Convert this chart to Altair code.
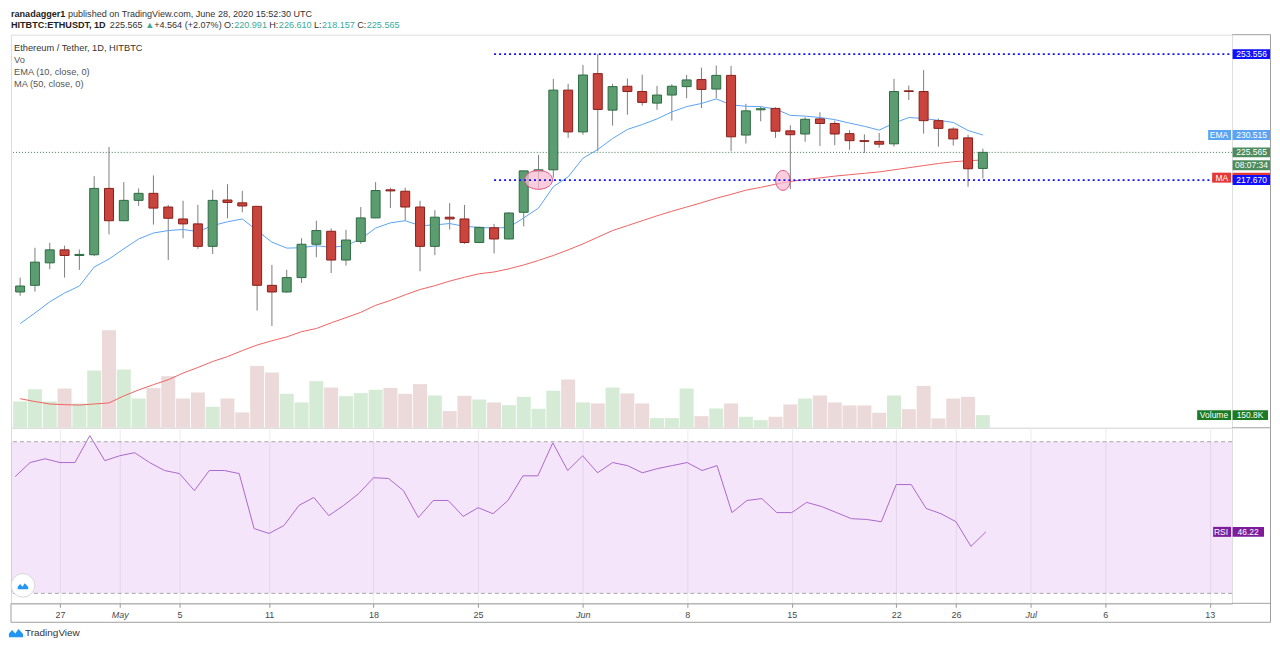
import math
import altair as alt
import pandas as pd

# ---------------- data ----------------
dates = pd.date_range("2020-04-24", "2020-06-28", freq="D").strftime("%Y-%m-%d").tolist()

opens = [185.8, 187.7, 194.1, 197.8, 196.2, 196.4, 215.3, 206.1, 211.9, 213.9,
         210.0, 206.6, 205.2, 198.8, 212.0, 211.2, 210.2, 187.7, 185.8, 189.9,
         199.4, 203.1, 194.9, 200.2, 206.9, 214.9, 214.5, 210.0, 198.8, 207.1,
         206.6, 199.9, 204.1, 200.9, 208.5, 220.1, 220.6, 243.3, 231.4, 248.0,
         237.6, 244.4, 242.9, 239.6, 241.9, 244.3, 246.3, 243.6, 247.5, 230.5,
         237.7, 238.1, 231.7, 230.8, 235.1, 233.8, 230.9, 228.9, 228.7, 228.0,
         243.1, 242.9, 234.6, 232.2, 229.7, 220.991]
highs = [189.9, 198.4, 199.8, 199.0, 197.9, 218.8, 227.1, 217.1, 215.3, 219.0,
         210.6, 211.8, 210.6, 214.9, 216.5, 214.6, 210.3, 193.5, 192.1, 201.1,
         206.1, 203.9, 203.5, 210.0, 217.1, 215.5, 215.5, 211.8, 209.1, 211.1,
         210.6, 204.4, 205.2, 208.5, 220.3, 224.8, 246.5, 245.1, 250.5, 253.6,
         245.1, 246.6, 247.7, 244.5, 245.0, 247.6, 249.7, 250.3, 250.2, 239.4,
         238.7, 238.4, 233.3, 235.6, 237.0, 234.6, 231.9, 230.7, 231.1, 246.5,
         244.6, 249.0, 235.2, 232.7, 230.6, 226.61]
lows = [184.7, 185.9, 192.3, 189.9, 192.1, 196.0, 202.2, 206.0, 210.3, 205.0,
        194.9, 201.1, 198.1, 196.6, 206.8, 208.5, 180.5, 176.1, 185.6, 188.4,
        195.7, 191.2, 193.3, 199.5, 206.8, 209.7, 206.1, 191.7, 196.3, 203.6,
        199.5, 199.8, 196.8, 200.8, 204.5, 215.1, 218.4, 229.7, 230.6, 225.9,
        233.2, 236.3, 238.9, 237.7, 234.6, 241.0, 238.2, 241.0, 225.9, 228.1,
        234.4, 229.7, 215.1, 228.6, 227.4, 227.6, 226.3, 225.4, 226.9, 227.2,
        240.5, 230.9, 227.2, 227.5, 215.8, 218.157]
closes = [187.5, 194.3, 197.8, 196.2, 196.5, 215.3, 206.1, 211.9, 213.9, 209.7,
          206.8, 205.2, 198.8, 211.9, 211.3, 210.3, 187.7, 185.8, 189.9, 199.4,
          203.3, 194.9, 200.6, 206.9, 214.7, 214.6, 210.0, 198.8, 207.1, 206.6,
          199.9, 204.2, 200.9, 208.3, 220.3, 220.6, 243.3, 231.4, 247.6, 237.8,
          244.3, 242.9, 239.8, 241.9, 244.4, 246.2, 243.5, 247.5, 230.0, 237.4,
          238.0, 231.6, 230.6, 235.0, 233.8, 230.8, 228.9, 228.7, 227.9, 242.9,
          242.9, 234.6, 232.4, 229.4, 220.9, 225.565]
ema10 = [176.8, 179.8, 183.0, 185.5, 187.5, 192.9, 195.2, 198.1, 200.9, 202.6,
         203.3, 203.6, 203.0, 204.7, 205.8, 206.6, 203.3, 200.0, 198.3, 198.4,
         199.0, 198.5, 199.0, 200.9, 204.0, 205.5, 206.1, 204.7, 204.9, 205.3,
         204.5, 204.2, 204.0, 204.2, 206.9, 209.7, 215.8, 218.6, 223.9, 226.4,
         229.5, 232.1, 233.5, 235.1, 237.1, 238.6, 239.5, 240.8, 239.1, 238.7,
         238.6, 237.9, 236.1, 235.9, 235.5, 234.9, 233.9, 233.0, 231.9, 233.9,
         235.5, 235.2, 234.7, 234.1, 231.8, 230.515]
ma50 = [155.4, 154.6, 153.9, 153.7, 153.6, 153.9, 154.2, 156.2, 157.9, 159.4,
        160.8, 162.7, 164.3, 166.0, 167.4, 169.1, 170.7, 171.9, 173.0, 174.5,
        175.4, 177.0, 178.5, 180.0, 182.0, 183.4, 185.0, 186.5, 187.6, 188.9,
        190.0, 191.0, 191.5, 192.4, 193.5, 194.8, 196.2, 197.8, 199.5, 201.4,
        203.3, 204.7, 206.1, 207.5, 208.8, 210.0, 211.2, 212.5, 213.6, 214.8,
        215.6, 216.5, 217.3, 217.8, 218.3, 218.8, 219.2, 219.6, 220.0, 220.6,
        221.2, 221.8, 222.4, 222.9, 223.2, 223.4]
rsi14 = [60.8, 64.5, 65.5, 64.5, 64.5, 71.6, 65.0, 66.3, 67.1, 64.5,
         62.4, 61.6, 57.1, 62.4, 62.4, 61.6, 47.1, 45.8, 47.9, 53.2,
         55.3, 50.5, 53.2, 56.3, 60.5, 60.3, 57.1, 50.0, 54.5, 54.5,
         50.3, 52.6, 51.0, 54.5, 61.0, 61.0, 69.7, 62.4, 66.3, 61.8,
         64.5, 63.7, 61.8, 62.9, 63.7, 64.5, 62.4, 63.7, 51.3, 54.5,
         55.0, 51.3, 51.3, 54.0, 52.9, 51.3, 49.7, 49.5, 48.9, 58.7,
         58.7, 52.4, 51.0, 48.9, 42.4, 46.22]
volume_k = [314, 460, 314, 468, 290, 683, 1163, 695, 349, 472,
            615, 349, 421, 250, 349, 183, 738, 659, 405, 302,
            556, 480, 377, 413, 453, 476, 405, 520, 385, 199,
            381, 337, 302, 270, 369, 226, 441, 576, 302, 290,
            480, 409, 290, 115, 115, 468, 139, 230, 290, 131,
            91, 131, 278, 349, 385, 302, 266, 266, 179, 385,
            222, 500, 111, 349, 369, 150.8]

tick_dates = ["2020-04-27", "2020-05-01", "2020-05-05", "2020-05-11", "2020-05-18",
              "2020-05-25", "2020-06-01", "2020-06-08", "2020-06-15", "2020-06-22",
              "2020-06-26", "2020-07-01", "2020-07-06", "2020-07-13"]
price_ticks = [150, 160, 170, 180, 190, 200, 210, 220, 230, 240, 250]
rsi_ticks = [30, 40, 50, 60, 70]

level_values = [253.556, 217.670]
level_start = "2020-05-26"
last_price = 225.565
ellipse_dates = ["2020-05-29T00:00:00Z", "2020-06-14T12:00:00Z"]
ellipse_prices = [217.75, 217.6]

df = pd.DataFrame({"date": dates, "open": opens, "high": highs, "low": lows,
                   "close": closes, "ema": ema10, "ma": ma50, "rsi": rsi14,
                   "vol": volume_k})
df["dir"] = ["up" if c >= o else "down" for o, c in zip(opens, closes)]

# ---------------- style ----------------
W, HM, HR, RIGHT = 1224, 394, 176, 1262.5
FONT = "Liberation Sans, Arial, sans-serif"
FRAME = "#a0a0a0"
GRID = "#ececec"
LAB = "#4a4a4a"
G_FILL, G_STROKE = "#5b9c70", "#2e6b41"
R_FILL, R_STROKE = "#c9443c", "#8a1f19"
WICK = "#7d7d7d"
VOL_G, VOL_R = "#d5ebd6", "#ecd9d9"
EMA_C, MA_C = "#5ba4f3", "#f06262"
BLUE = "#1010ff"
GREEN_BOX = "#4d8c5e"
TEAL = "#3aaa9c"
DARK = "#222222"

J1 = pd.Timestamp("2020-06-01", tz="UTC")


def ms(ts):
    return int(ts.value // 10**6)


xdom = [ms(J1 - pd.Timedelta(days=38.28)), ms(J1 + pd.Timedelta(days=43.49))]
tick_ms = [ms(pd.Timestamp(d, tz="UTC")) for d in tick_dates]
xscale = alt.Scale(type="utc", domain=xdom, nice=False)
pscale = alt.Scale(domain=[147.13, 259.09], nice=False, zero=False)
vscale = alt.Scale(domain=[0, 4690], nice=False, zero=True)
rscale = alt.Scale(domain=[27.37, 73.68], nice=False, zero=False)

one = pd.DataFrame({"k": [0]})

# Arial/Liberation Sans advance widths (per 1000 em) for laying out coloured text runs
_REG = {" ": 278, "%": 889, "(": 333, ")": 333, "+": 584, ",": 278, "-": 333, ".": 278,
        "/": 278, ":": 278, "▲": 770}
_BOLD = dict(_REG, **{":": 333})
for _c in "0123456789":
    _REG[_c] = _BOLD[_c] = 556
for _c, _w in zip("ABCDEFGHIJKLMNOPQRSTUVWXYZ",
                  [667, 667, 722, 722, 667, 611, 778, 722, 278, 500, 667, 556, 833, 722, 778, 667,
                   778, 722, 667, 611, 722, 667, 944, 667, 667, 611]):
    _REG[_c] = _w
for _c, _w in zip("ABCDEFGHIJKLMNOPQRSTUVWXYZ",
                  [722, 722, 722, 722, 667, 611, 778, 722, 278, 556, 722, 611, 833, 722, 778, 667,
                   778, 722, 667, 611, 722, 667, 944, 667, 667, 611]):
    _BOLD[_c] = _w
for _c, _w in zip("abcdefghijklmnopqrstuvwxyz",
                  [556, 556, 500, 556, 556, 278, 556, 556, 222, 222, 500, 222, 833, 556, 556, 556,
                   556, 333, 500, 278, 556, 500, 722, 500, 500, 500]):
    _REG[_c] = _w
for _c, _w in zip("abcdefghijklmnopqrstuvwxyz",
                  [556, 611, 556, 611, 556, 333, 611, 611, 278, 278, 556, 278, 889, 611, 611, 611,
                   611, 389, 556, 333, 611, 556, 778, 556, 556, 500]):
    _BOLD[_c] = _w


def tw(s, size, bold=False):
    t = _BOLD if bold else _REG
    return sum(t.get(ch, 556) for ch in s) / 1000.0 * size


def txt(s, x, y, color="#333333", size=10, weight="normal", align="left"):
    return alt.Chart(one).mark_text(text=s, align=align, baseline="middle", fontSize=size,
                                    fontWeight=weight, color=color, font=FONT).encode(
        x=alt.value(x), y=alt.value(y))


def runs(parts, x0, y, size):
    out, x = [], x0
    for s, color, bold, gap in parts:
        out.append(txt(s, round(x, 1), y, color=color, size=size, weight="bold" if bold else "normal"))
        x += tw(s, size, bold) + gap * size / 1000.0
    return out


def hrule(x1, x2, y, color=FRAME):
    return alt.Chart(one).mark_rule(color=color, strokeWidth=1).encode(
        x=alt.value(x1), x2=alt.value(x2), y=alt.value(y))


def vrule(x, y1, y2, color=FRAME):
    return alt.Chart(one).mark_rule(color=color, strokeWidth=1).encode(
        x=alt.value(x), y=alt.value(y1), y2=alt.value(y2))


def box(x0, x1, h=1.0):
    # custom symbol path; symbol size 400 -> 1 unit = 10 px
    return f"M{x0/10:.2f},{-h/2:.2f}H{x1/10:.2f}V{h/2:.2f}H{x0/10:.2f}Z"


def ellipse(rx, ry, n=36):
    pts = [(rx / 10 * math.cos(2 * math.pi * i / n), ry / 10 * math.sin(2 * math.pi * i / n)) for i in range(n)]
    return "M" + "L".join(f"{a:.3f},{b:.3f}" for a, b in pts) + "Z"


# ---------------- main pane ----------------
base = alt.Chart(df)
X = alt.X("date:T", scale=xscale, axis=None)
x_grid_axis = alt.Axis(values=tick_ms, grid=True, gridColor=GRID, labels=False, ticks=False,
                       domain=False, title=None)
price_axis = alt.Axis(orient="right", values=price_ticks, format=".3f", grid=True, gridColor=GRID,
                      labelColor=LAB, labelFontSize=8.5, labelFont=FONT, tickColor="#999999",
                      tickSize=4, labelPadding=2, domainColor=FRAME, title=None)

wicks = base.mark_rule(color=WICK, strokeWidth=1).encode(
    x=alt.X("date:T", scale=xscale, axis=x_grid_axis),
    y=alt.Y("low:Q", scale=pscale, axis=price_axis), y2="high:Q")
bodies = base.mark_bar(size=9, strokeWidth=1).encode(
    x=X, y=alt.Y("open:Q", scale=pscale, axis=None), y2="close:Q",
    fill=alt.Fill("dir:N", scale=alt.Scale(domain=["up", "down"], range=[G_FILL, R_FILL]), legend=None),
    stroke=alt.Stroke("dir:N", scale=alt.Scale(domain=["up", "down"], range=[G_STROKE, R_STROKE]), legend=None))
ema_line = base.mark_line(color=EMA_C, strokeWidth=1).encode(x=X, y=alt.Y("ema:Q", scale=pscale, axis=None))
ma_line = base.mark_line(color=MA_C, strokeWidth=1).encode(x=X, y=alt.Y("ma:Q", scale=pscale, axis=None))

lv = pd.DataFrame({"start": [level_start] * len(level_values), "level": level_values})
levels = alt.Chart(lv).mark_rule(color=BLUE, strokeDash=[2, 3], strokeWidth=1.6).encode(
    x=alt.X("start:T", scale=xscale, axis=None), x2=alt.value(W),
    y=alt.Y("level:Q", scale=pscale, axis=None))
lastp = alt.Chart(pd.DataFrame({"p": [last_price]})).mark_rule(
    color="#3c7d4f", strokeDash=[1, 2], strokeWidth=1).encode(y=alt.Y("p:Q", scale=pscale, axis=None))

ell = pd.DataFrame({"d": ellipse_dates, "p": ellipse_prices,
                    "path": [ellipse(14, 9.5), ellipse(7.3, 10)]})
ellipses = alt.Chart(ell).mark_point(filled=True, fill="#f7bcd3", fillOpacity=0.75, stroke="#e2507f",
                                     strokeWidth=1, opacity=1).encode(
    x=alt.X("d:T", scale=xscale, axis=None), y=alt.Y("p:Q", scale=pscale, axis=None),
    shape=alt.Shape("path:N", scale=None), size=alt.value(400))

# right-side price labels
VB = box(0.5, 38.5)
plab = pd.DataFrame({
    "y": [253.556, 230.515, 230.515, 225.565, 221.87, 218.37, 218.37, 217.670],
    "path": [VB, box(-24, -1), VB, VB, VB, VB, box(-20, -1), VB],
    "col": [BLUE, EMA_C, EMA_C, GREEN_BOX, GREEN_BOX, "#e53935", "#e53935", BLUE]})
plab_boxes = alt.Chart(plab).mark_point(filled=True, opacity=1, strokeWidth=0).encode(
    x=alt.value(W), y=alt.Y("y:Q", scale=pscale, axis=None),
    shape=alt.Shape("path:N", scale=None), fill=alt.Fill("col:N", scale=None), size=alt.value(400))
pval = pd.DataFrame({"y": [253.556, 230.515, 225.565, 221.87, 217.670],
                     "t": ["253.556", "230.515", "225.565", "08:07:34", "217.670"]})
pval_txt = alt.Chart(pval).mark_text(color="white", fontSize=8.5, font=FONT, align="center",
                                     baseline="middle").encode(
    x=alt.value(W + 19.5), y=alt.Y("y:Q", scale=pscale, axis=None), text="t:N")
ptag = pd.DataFrame({"y": [230.515, 218.37], "t": ["EMA", "MA"]})
ptag_txt = alt.Chart(ptag).mark_text(color="white", fontSize=8.5, font=FONT, align="right",
                                     baseline="middle").encode(
    x=alt.value(W - 4), y=alt.Y("y:Q", scale=pscale, axis=None), text="t:N")

HS = 9.1
header = runs([("ranadagger1", DARK, True, 278),
               ("published on TradingView.com, June 28, 2020 15:52:30 UTC", "#333333", False, 0)],
              0, -20.5, HS)
header += runs([("HITBTC:ETHUSDT, 1D", DARK, True, 330),
                ("225.565", "#333333", False, 300),
                ("▲", TEAL, False, 200),
                ("+4.564 (+2.07%)", "#333333", False, 250),
                ("O:", "#333333", False, 60),
                ("220.991", TEAL, False, 250),
                ("H:", "#333333", False, 60),
                ("226.610", TEAL, False, 250),
                ("L:", "#333333", False, 60),
                ("218.157", TEAL, False, 250),
                ("C:", "#333333", False, 60),
                ("225.565", TEAL, False, 0)], 0, -9.5, HS)
legend_txt = [
    txt("Ethereum / Tether, 1D, HITBTC", 3, 13, color="#333333", size=9.3),
    txt("Vo", 3, 25, color="#555555", size=9.3),
    txt("EMA (10, close, 0)", 3, 37, color="#555555", size=9.3),
    txt("MA (50, close, 0)", 3, 49, color="#555555", size=9.3),
]
guard = hrule(0, 10, -24.5, color="white")
frame_main = [hrule(W, RIGHT, 0), vrule(RIGHT, 0, HM), hrule(W, RIGHT, HM)]

price_group = alt.layer(wicks, ema_line, ma_line, lastp, bodies, ellipses, levels,
                        plab_boxes, pval_txt, ptag_txt, guard, *header, *legend_txt, *frame_main)

vol_bars = base.mark_bar(size=14).encode(
    x=X, y=alt.Y("vol:Q", scale=vscale, axis=None),
    color=alt.Color("dir:N", scale=alt.Scale(domain=["up", "down"], range=[VOL_G, VOL_R]), legend=None))
vlab = pd.DataFrame({"v": [150.8, 150.8], "path": [box(-35, -1), box(0.5, 36)]})
vol_boxes = alt.Chart(vlab).mark_point(filled=True, opacity=1, strokeWidth=0, fill="#1c7a24").encode(
    x=alt.value(W), y=alt.Y("v:Q", scale=vscale, axis=None),
    shape=alt.Shape("path:N", scale=None), size=alt.value(400))
vtxt = pd.DataFrame({"v": [150.8], "t": ["150.8K"], "tag": ["Volume"]})
vol_val = alt.Chart(vtxt).mark_text(color="white", fontSize=8.5, font=FONT, align="center",
                                    baseline="middle").encode(
    x=alt.value(W + 18), y=alt.Y("v:Q", scale=vscale, axis=None), text="t:N")
vol_tag = alt.Chart(vtxt).mark_text(color="white", fontSize=8.5, font=FONT, align="right",
                                    baseline="middle").encode(
    x=alt.value(W - 4), y=alt.Y("v:Q", scale=vscale, axis=None), text="tag:N")
vol_group = alt.layer(vol_bars, vol_boxes, vol_val, vol_tag)

main = alt.layer(vol_group, price_group).resolve_scale(y="independent").properties(width=W, height=HM)

# ---------------- RSI pane ----------------
x_axis = alt.Axis(values=tick_ms,
                  labelExpr="utcdate(datum.value) == 1 ? utcFormat(datum.value, '%b') : utcFormat(datum.value, '%-d')",
                  labelFontStyle={"condition": {"test": "utcdate(datum.value) == 1", "value": "italic"},
                                  "value": "normal"},
                  grid=True, gridColor=GRID, tickColor="#999999", tickSize=4, domainColor=FRAME,
                  labelColor=LAB, labelFontSize=9, labelFont=FONT, labelPadding=3, title=None,
                  labelFlush=False, labelOverlap=False)
rsi_axis = alt.Axis(orient="right", values=rsi_ticks, format=".2f", grid=True, gridColor="#e3e3e3",
                    labelColor=LAB, labelFontSize=8.5, labelFont=FONT, tickColor="#999999", tickSize=4,
                    labelPadding=2, domainColor=FRAME, title=None)

rsi_band = alt.Chart(pd.DataFrame({"lo": [30], "hi": [70]})).mark_rect(
    fill="#c77dea", opacity=0.2).encode(
    x=alt.value(0), x2=alt.value(W), y=alt.Y("lo:Q", scale=rscale, axis=None), y2="hi:Q")
rsi_lv = alt.Chart(pd.DataFrame({"v": [30, 70]})).mark_rule(
    color="#a8a8a8", strokeDash=[4, 3], strokeWidth=1).encode(y=alt.Y("v:Q", scale=rscale, axis=None))
rsi_line = alt.Chart(df).mark_line(color="#ac68cb", strokeWidth=1).encode(
    x=alt.X("date:T", scale=xscale, axis=x_axis), y=alt.Y("rsi:Q", scale=rscale, axis=rsi_axis))
rlab = pd.DataFrame({"v": [46.22, 46.22], "path": [box(-19, -1), box(0.5, 32)]})
rsi_boxes = alt.Chart(rlab).mark_point(filled=True, opacity=1, strokeWidth=0, fill="#7d1d9c").encode(
    x=alt.value(W), y=alt.Y("v:Q", scale=rscale, axis=None),
    shape=alt.Shape("path:N", scale=None), size=alt.value(400))
rtxt = pd.DataFrame({"v": [46.22], "t": ["46.22"], "tag": ["RSI"]})
rsi_val = alt.Chart(rtxt).mark_text(color="white", fontSize=8.5, font=FONT, align="center",
                                    baseline="middle").encode(
    x=alt.value(W + 16), y=alt.Y("v:Q", scale=rscale, axis=None), text="t:N")
rsi_tag = alt.Chart(rtxt).mark_text(color="white", fontSize=8.5, font=FONT, align="right",
                                    baseline="middle").encode(
    x=alt.value(W - 4), y=alt.Y("v:Q", scale=rscale, axis=None), text="tag:N")

logo_path = "M-1,0.55L-1,0.05L-0.55,-0.45L-0.1,0.05L0.35,-0.6L1,0.1L1,0.55Z"
btn = alt.Chart(one).mark_point(shape="circle", filled=True, fill="white", stroke="#d6d6d6",
                                strokeWidth=1, opacity=1).encode(
    x=alt.value(12), y=alt.value(158), size=alt.value(560))
btn_logo = alt.Chart(one).mark_point(shape=logo_path, filled=True, fill="#2196f3", opacity=1,
                                     strokeWidth=0).encode(
    x=alt.value(12), y=alt.value(159), size=alt.value(110))
tv_logo = alt.Chart(one).mark_point(shape=logo_path, filled=True, fill="#2196f3", opacity=1,
                                    strokeWidth=0).encode(
    x=alt.value(5), y=alt.value(206), size=alt.value(200))
tv_text = txt("TradingView", 14, 206, color="#333333", size=10)
frame_rsi = [vrule(RIGHT, 0, 195), hrule(0, RIGHT, 195), vrule(0, HR, 195), hrule(W, RIGHT, HR)]

rsi_panel = alt.layer(rsi_band, rsi_line, rsi_lv, rsi_boxes, rsi_val, rsi_tag,
                      btn, btn_logo, tv_logo, tv_text, *frame_rsi).properties(width=W, height=HR)

chart = alt.vconcat(main, rsi_panel, spacing=0, bounds="flush").properties(
    padding={"left": 0, "top": 0, "right": 0, "bottom": 0}
).configure_view(stroke=FRAME, strokeWidth=1).configure(background="white", font=FONT)

chart.save("out.html", embed_options={"renderer": "svg", "actions": False})
